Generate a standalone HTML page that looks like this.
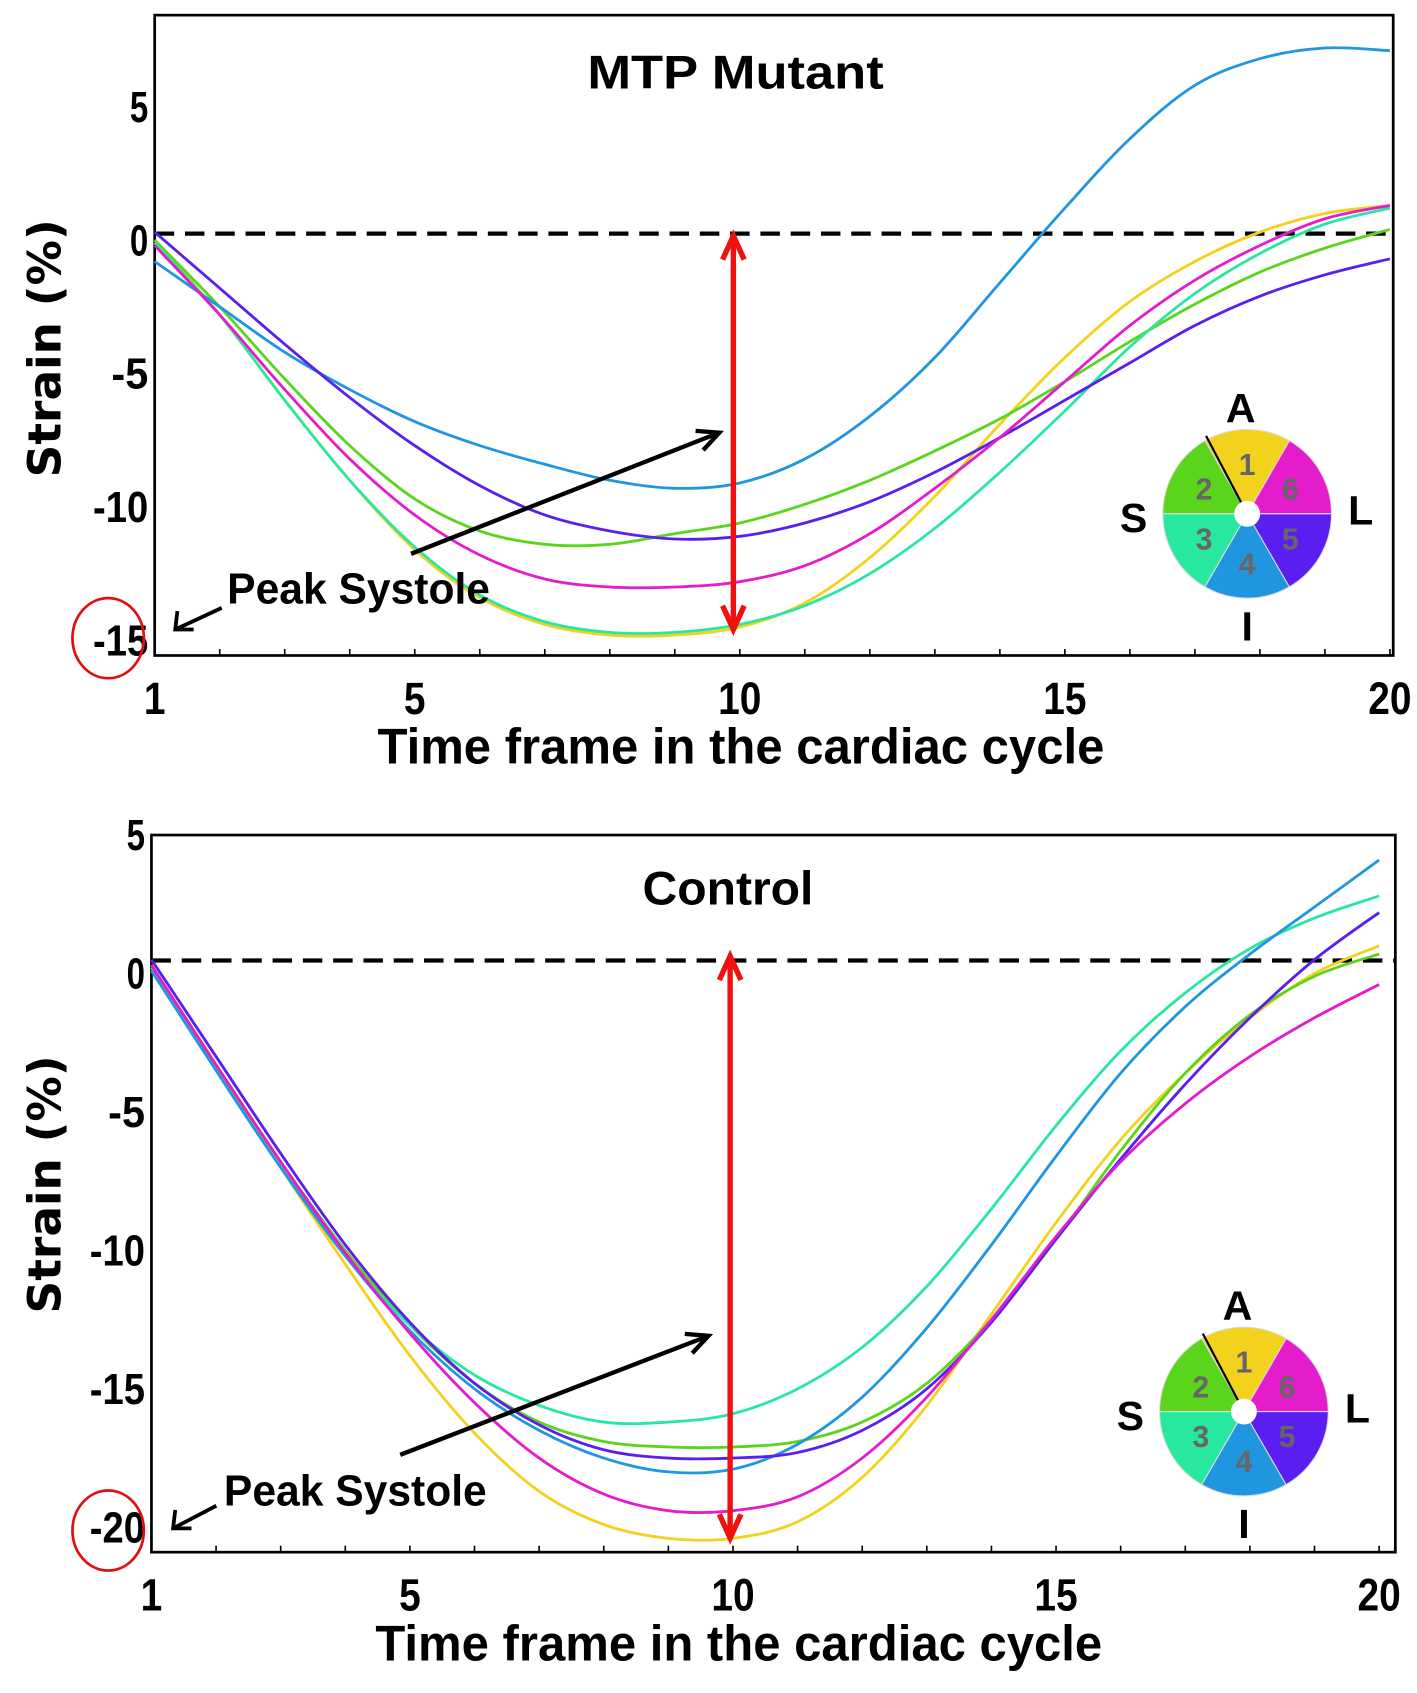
<!DOCTYPE html>
<html><head><meta charset="utf-8"><style>
html,body{margin:0;padding:0;background:#fff}
svg{display:block}
text{font-family:"Liberation Sans Narrow","Liberation Sans",sans-serif;font-weight:bold;fill:#000}
</style></head><body>
<svg id="chart" width="1417" height="1693" viewBox="0 0 1310 1565.2" xmlns="http://www.w3.org/2000/svg"></svg>
<script>
const frames = [1,2,3,4,5,6,7,8,9,10,11,12,13,14,15,16,17,18,19,20];
const seriesColors = ["#f2d21c","#5bd41c","#28e8a0","#2196e0","#5a1ef0","#e41ccc"];
const mutantYellow  = [0,-2.8,-6.0,-9.0,-11.6,-13.4,-14.4,-14.8,-14.8,-14.5,-13.6,-11.9,-9.6,-6.9,-4.4,-2.3,-0.8,0.3,1.0,1.3];
const mutantGreen   = [0,-2.5,-5.2,-7.7,-9.7,-10.9,-11.4,-11.4,-11.0,-10.6,-9.9,-9.0,-7.9,-6.7,-5.3,-3.8,-2.4,-1.2,-0.3,0.4];
const mutantTeal    = [-0.1,-2.8,-6.0,-9.0,-11.5,-13.3,-14.3,-14.7,-14.7,-14.4,-13.7,-12.5,-10.8,-8.7,-6.4,-4.0,-2.0,-0.5,0.6,1.2];
const mutantBlue    = [-0.8,-2.5,-4.2,-5.6,-6.8,-7.7,-8.4,-9.0,-9.3,-9.1,-8.2,-6.6,-4.4,-1.6,1.2,3.8,5.8,6.8,7.2,7.1];
const mutantPurple  = [0.3,-1.8,-3.9,-5.9,-7.7,-9.2,-10.3,-10.9,-11.2,-11.1,-10.6,-9.8,-8.7,-7.4,-6.0,-4.6,-3.2,-2.1,-1.3,-0.7];
const mutantMagenta = [-0.2,-2.8,-5.6,-8.2,-10.3,-11.8,-12.7,-13.0,-13.0,-12.8,-12.2,-11.0,-9.3,-7.4,-5.3,-3.2,-1.5,-0.2,0.8,1.3];
const controlYellow  = [0.3,-3.3,-7,-10.5,-13.8,-16.6,-18.7,-19.9,-20.4,-20.4,-19.8,-18.2,-15.6,-12.3,-9.0,-6.0,-3.6,-1.6,0,1.0];
const controlGreen   = [0.2,-3.3,-6.8,-10.0,-12.7,-14.8,-16.2,-16.9,-17.1,-17.1,-16.9,-16.2,-14.8,-12.5,-9.6,-6.4,-3.6,-1.5,-0.1,0.7];
const controlTeal    = [0.3,-3.5,-7,-10.2,-12.7,-14.5,-15.6,-16.2,-16.2,-15.9,-15.0,-13.5,-11.3,-8.5,-5.5,-2.8,-0.7,0.9,2.0,2.8];
const controlBlue    = [0.1,-3.5,-7,-10.2,-12.9,-15,-16.5,-17.5,-18.0,-17.9,-17.0,-15.3,-12.8,-9.8,-6.6,-3.6,-1.2,0.7,2.4,4.1];
const controlPurple  = [0.5,-3.0,-6.5,-9.8,-12.6,-14.8,-16.3,-17.2,-17.5,-17.5,-17.3,-16.5,-15.0,-12.6,-9.6,-6.7,-4.0,-1.6,0.5,2.2];
const controlMagenta = [0.3,-3.3,-6.8,-10.1,-13.0,-15.5,-17.5,-18.8,-19.4,-19.4,-18.9,-17.5,-15.3,-12.5,-9.5,-6.8,-4.7,-3.0,-1.6,-0.4];
const mutantYTicks = [5,0,-5,-10,-15];
const controlYTicks = [5,0,-5,-10,-15,-20];
const xTicks = [1,5,10,15,20];

const svg = document.getElementById('chart');
const NS = "http://www.w3.org/2000/svg";
function mk(tag, attrs, parent){const e=document.createElementNS(NS,tag);for(const k in attrs)e.setAttribute(k,attrs[k]);(parent||svg).appendChild(e);return e;}
function txt(s,x,y,size,anchor,parent,len){const a={x:x,y:y,'font-size':size,'text-anchor':anchor||'middle'};if(len){a.textLength=len;a.lengthAdjust='spacingAndGlyphs';}const t=mk('text',a,parent);t.textContent=s;return t;}
function smooth(pts){let d='M'+pts[0][0]+','+pts[0][1];for(let i=0;i<pts.length-1;i++){const p0=pts[i-1]||pts[i],p1=pts[i],p2=pts[i+1],p3=pts[i+2]||p2;
 d+=' C'+(p1[0]+(p2[0]-p0[0])/6)+','+(p1[1]+(p2[1]-p0[1])/6)+' '+(p2[0]-(p3[0]-p1[0])/6)+','+(p2[1]-(p3[1]-p1[1])/6)+' '+p2[0]+','+p2[1];}return d;}

function wheel(g,cx,cy){
  const r=78;
  for(let i=0;i<6;i++){
    const a0=(i*60)*Math.PI/180,a1=((i+1)*60)*Math.PI/180;
    const col=[seriesColors[5],seriesColors[0],seriesColors[1],seriesColors[2],seriesColors[3],seriesColors[4]][i];
    const p=mk('path',{d:`M${cx},${cy} L${cx+r*Math.cos(a0)},${cy-r*Math.sin(a0)} A${r},${r} 0 0 0 ${cx+r*Math.cos(a1)},${cy-r*Math.sin(a1)} Z`,fill:col,stroke:'#ddd','stroke-width':1},g);
    
    
    const am=(a0+a1)/2;const n=[6,1,2,3,4,5][i];
    const t=mk('text',{x:cx+46*Math.cos(am),y:cy-46*Math.sin(am)+10,'font-size':28,'text-anchor':'middle',style:'fill:#666;font-family:"Liberation Sans",sans-serif;font-weight:bold'},g);t.textContent=n;
  }
  mk('line',{x1:cx,y1:cy,x2:cx-38,y2:cy-72,stroke:'#000','stroke-width':2},g);
  mk('circle',{cx:cx,cy:cy,r:12,fill:'#fff'},g);
  const L=[['A',cx-6,cy-85],['S',cx-105,cy+17],['L',cx+105,cy+10],['I',cx,cy+117]];
  L.forEach(l=>txt(l[0],l[1],l[2],38,'middle',g));
}

function panel(o){
  const g=mk('g',{});
  
  
  const X=f=>o.x0+(f-1)*(o.x1-o.x0)/19;
  const Y=v=>o.yz-v*o.unit;
  const box=mk('rect',{x:o.bx0,y:o.by0,width:o.bx1-o.bx0,height:o.by1-o.by0,fill:'none',stroke:'#000','stroke-width':2.5},g);
  
  
  frames.forEach(f=>{mk('line',{x1:X(f),x2:X(f),y1:o.by1,y2:o.by1-6,stroke:'#000','stroke-width':1.5},g);});
  o.yt.forEach(v=>{const s=String(v);const t=txt(s,o.bx0-6,Y(v)+14,40,'end',g,s.length*17);
    
    });
  xTicks.forEach(f=>{const s=String(f);const t=txt(s,X(f),o.by1+54,42,'middle',g,s.length*20);
    
    });
  const xt=txt('Time frame in the cardiac cycle',o.xtX,o.by1+100,46,'middle',g,672);
  
  
  const yt=mk('text',{x:0,y:0,'font-size':42,'text-anchor':'middle',transform:`translate(56,${o.ytc}) rotate(-90)`,style:'font-family:"DejaVu Sans",sans-serif;font-weight:bold'},g);
  yt.textContent='Strain (%)';
  
  
  const ti=txt(o.title,o.titleX,o.titleY,44,'middle',g,o.titleLen);
  
  
  const dl=mk('line',{x1:o.bx0,x2:o.bx1,y1:o.dash,y2:o.dash,stroke:'#000','stroke-width':4,'stroke-dasharray':'18,10'},g);
  
  
  const names=['yellow','green','teal','blue','purple','magenta'];
  o.series.forEach((s,i)=>{
    const p=mk('path',{d:smooth(frames.map((f,j)=>[X(f),Y(s[j])])),fill:'none',stroke:seriesColors[i],'stroke-width':2.6},g);
    
    
  });
  const ra=mk('g',{},g);
  
  
  mk('line',{x1:o.ra,x2:o.ra,y1:o.ra0+6,y2:o.ra1-6,stroke:'#f01010','stroke-width':5},ra);
  mk('path',{d:`M${o.ra-10},${o.ra0+22} L${o.ra},${o.ra0} L${o.ra+10},${o.ra0+22} M${o.ra-10},${o.ra1-22} L${o.ra},${o.ra1} L${o.ra+10},${o.ra1-22}`,fill:'none',stroke:'#f01010','stroke-width':5},ra);
  const ba=mk('g',{},g);
  
  
  const [ax,ay,bx,by]=o.ba;
  mk('line',{x1:ax,y1:ay,x2:bx,y2:by,stroke:'#000','stroke-width':4},ba);
  const ang=Math.atan2(by-ay,bx-ax);
  const h=(a)=>[bx-22*Math.cos(ang+a),by-22*Math.sin(ang+a)];
  const h1=h(0.45),h2=h(-0.45);
  mk('path',{d:`M${h1[0]},${h1[1]} L${bx},${by} L${h2[0]},${h2[1]}`,fill:'none',stroke:'#000','stroke-width':4},ba);
  const ps=txt('Peak Systole',o.ps[0],o.ps[1],40,'start',g,243);
  
  
  const [sx,sy,ex,ey]=o.sa;
  mk('line',{x1:sx,y1:sy,x2:ex,y2:ey,stroke:'#000','stroke-width':3.5},g);
  mk('path',{d:`M${ex+17},${ey} L${ex},${ey} L${ex+2},${ey-17}`,fill:'none',stroke:'#000','stroke-width':3.5},g);
  const rc=mk('ellipse',{cx:o.rc[0],cy:o.rc[1],rx:33,ry:37,fill:'none',stroke:'#e01010','stroke-width':2.5},g);
  
  
  const wg=mk('g',{},g);
  
  
  wheel(wg,o.wc[0],o.wc[1]);
}

panel({name:'mtp-mutant-panel',x0:143,x1:1285,yz:222,unit:24.67,bx0:143,bx1:1288,by0:14,by1:606,yt:mutantYTicks,
  title:'MTP Mutant',titleX:680,titleY:82,titleLen:274,xtX:685,ytc:322,dash:216,ra:678,ra0:218,ra1:582,ba:[380,512,665,400],ps:[210,558],sa:[205,562,162,582],rc:[100,590],
  wc:[1153,475],series:[mutantYellow,mutantGreen,mutantTeal,mutantBlue,mutantPurple,mutantMagenta]});
panel({name:'control-panel',x0:140,x1:1275,yz:900,unit:25.6,bx0:140,bx1:1290,by0:772,by1:1435,yt:controlYTicks,
  title:'Control',titleX:673,titleY:836,titleLen:158,xtX:683,ytc:1095,dash:888,ra:675,ra0:884,ra1:1422,ba:[370,1345,655,1235],ps:[207,1392],sa:[200,1392,160,1413],rc:[100,1415],
  wc:[1150,1305],series:[controlYellow,controlGreen,controlTeal,controlBlue,controlPurple,controlMagenta]});
</script>
</body></html>
